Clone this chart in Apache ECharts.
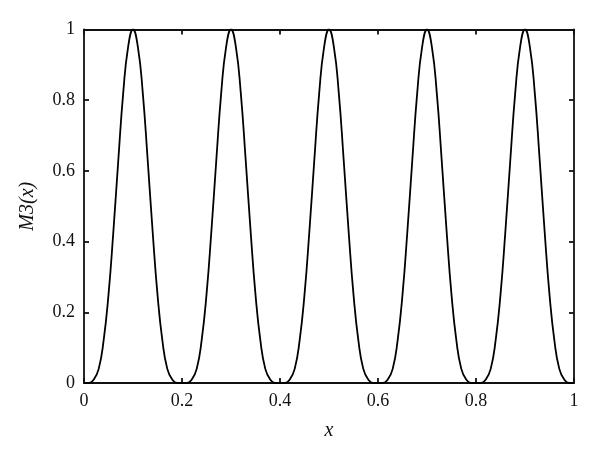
<!DOCTYPE html>
<html>
<head>
<meta charset="utf-8">
<script src="https://cdn.jsdelivr.net/npm/echarts@6/dist/echarts.min.js"></script>
<style>html,body{margin:0;padding:0;background:#fff}#c{width:600px;height:459px}</style>
</head>
<body>
<div id="c"></div>
<script>
var xValues = [
0.00,0.01,0.02,0.03,0.04,0.05,0.06,0.07,0.08,0.09,
0.10,0.11,0.12,0.13,0.14,0.15,0.16,0.17,0.18,0.19,
0.20,0.21,0.22,0.23,0.24,0.25,0.26,0.27,0.28,0.29,
0.30,0.31,0.32,0.33,0.34,0.35,0.36,0.37,0.38,0.39,
0.40,0.41,0.42,0.43,0.44,0.45,0.46,0.47,0.48,0.49,
0.50,0.51,0.52,0.53,0.54,0.55,0.56,0.57,0.58,0.59,
0.60,0.61,0.62,0.63,0.64,0.65,0.66,0.67,0.68,0.69,
0.70,0.71,0.72,0.73,0.74,0.75,0.76,0.77,0.78,0.79,
0.80,0.81,0.82,0.83,0.84,0.85,0.86,0.87,0.88,0.89,
0.90,0.91,0.92,0.93,0.94,0.95,0.96,0.97,0.98,0.99,
1.00];
var m3Values = [
0.00,0.00,0.01,0.04,0.12,0.25,0.43,0.63,0.82,0.95,
1.00,0.95,0.82,0.63,0.43,0.25,0.12,0.04,0.01,0.00,
0.00,0.00,0.01,0.04,0.12,0.25,0.43,0.63,0.82,0.95,
1.00,0.95,0.82,0.63,0.43,0.25,0.12,0.04,0.01,0.00,
0.00,0.00,0.01,0.04,0.12,0.25,0.43,0.63,0.82,0.95,
1.00,0.95,0.82,0.63,0.43,0.25,0.12,0.04,0.01,0.00,
0.00,0.00,0.01,0.04,0.12,0.25,0.43,0.63,0.82,0.95,
1.00,0.95,0.82,0.63,0.43,0.25,0.12,0.04,0.01,0.00,
0.00,0.00,0.01,0.04,0.12,0.25,0.43,0.63,0.82,0.95,
1.00,0.95,0.82,0.63,0.43,0.25,0.12,0.04,0.01,0.00,
0.00];
var tickLabels = ['0','0.2','0.4','0.6','0.8','1'];

var data = xValues.map(function (x, i) { return [x, m3Values[i]]; });
function fmt(v) { var i = Math.round(v * 5); return tickLabels[i]; }

var font = 'Liberation Serif';
var lineStyle = { color: '#111', width: 1.8 };
var chart = echarts.init(document.getElementById('c'));
chart.setOption({
  animation: false,
  grid: { left: 84, right: 26, top: 29.5, bottom: 76, containLabel: false },
  xAxis: [{
    type: 'value', min: 0, max: 1, interval: 0.2,
    name: 'x', nameLocation: 'middle', nameGap: 38,
    nameTextStyle: { fontFamily: font, fontStyle: 'italic', fontSize: 20, color: '#111' },
    axisLine: { show: true, onZero: false, lineStyle: lineStyle },
    axisTick: { show: true, inside: true, length: 5, lineStyle: lineStyle },
    axisLabel: { fontFamily: font, fontSize: 18, color: '#111', margin: 9, formatter: fmt },
    splitLine: { show: false }
  }, {
    type: 'value', min: 0, max: 1, interval: 0.2, position: 'top',
    axisLine: { show: true, onZero: false, lineStyle: lineStyle },
    axisTick: { show: true, inside: true, length: 5, lineStyle: lineStyle },
    axisLabel: { show: false }, splitLine: { show: false }
  }],
  yAxis: [{
    type: 'value', min: 0, max: 1, interval: 0.2,
    name: 'M3(x)', nameLocation: 'middle', nameGap: 46, nameRotate: 90,
    nameTextStyle: { fontFamily: font, fontStyle: 'italic', fontSize: 20, color: '#111' },
    axisLine: { show: true, onZero: false, lineStyle: lineStyle },
    axisTick: { show: true, inside: true, length: 5, lineStyle: lineStyle },
    axisLabel: { fontFamily: font, fontSize: 18, color: '#111', margin: 9, formatter: fmt },
    splitLine: { show: false }
  }, {
    type: 'value', min: 0, max: 1, interval: 0.2, position: 'right',
    axisLine: { show: true, onZero: false, lineStyle: lineStyle },
    axisTick: { show: true, inside: true, length: 5, lineStyle: lineStyle },
    axisLabel: { show: false }, splitLine: { show: false }
  }],
  series: [{
    type: 'line', data: data, smooth: 0.5, showSymbol: false,
    lineStyle: { color: '#000', width: 1.8 }, clip: true
  }]
});
</script>
</body>
</html>
